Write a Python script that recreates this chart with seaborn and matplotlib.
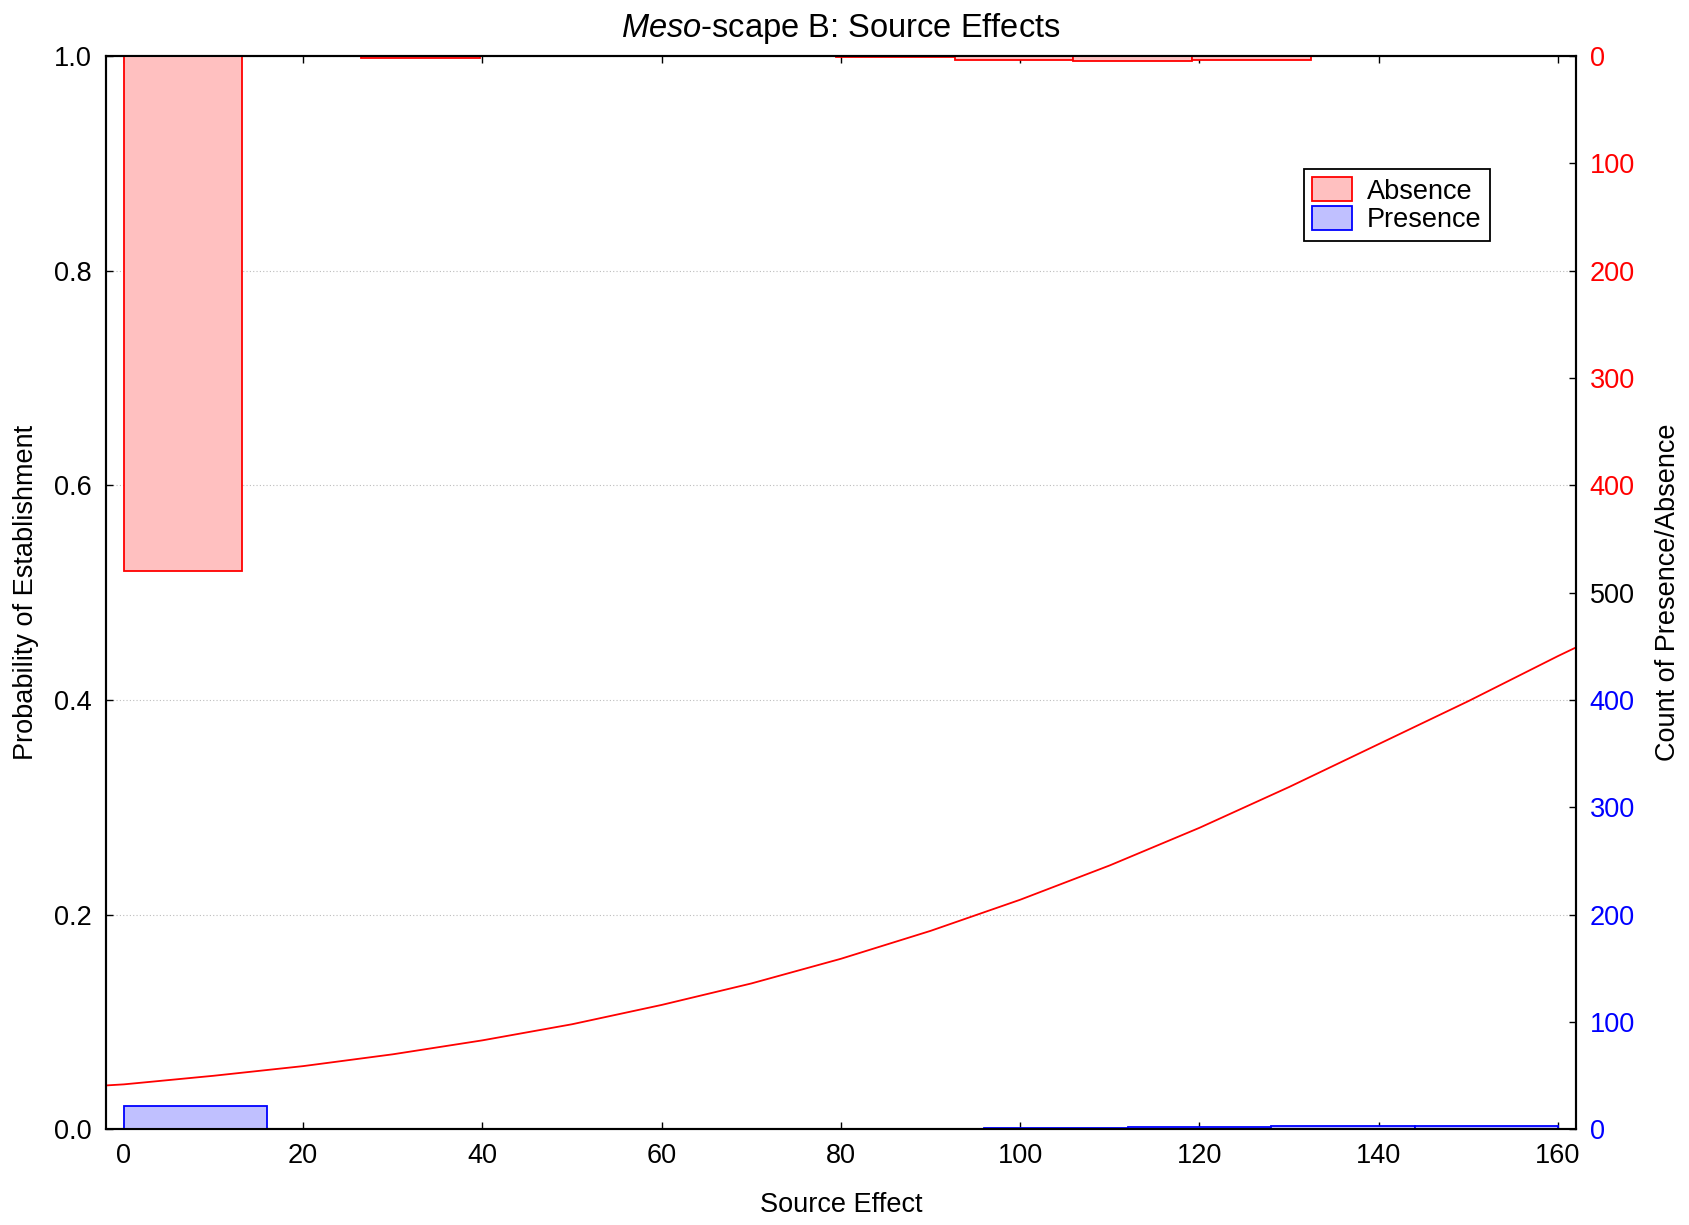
import numpy as np
import matplotlib
matplotlib.use("Agg")
import matplotlib.pyplot as plt
import seaborn as sns
from matplotlib.patches import Patch

# ---------------- data ----------------
source_effect = [-2, 0, 10, 20, 30, 40, 50, 60, 70, 80, 90, 100, 110, 120,
                 130, 140, 150, 160, 162]
prob_establishment = [0.041, 0.042, 0.050, 0.059, 0.070, 0.083, 0.098, 0.116,
                      0.136, 0.159, 0.185, 0.214, 0.246, 0.281, 0.319, 0.359,
                      0.399, 0.441, 0.449]

absence_bin_edges = [0, 13.2, 26.5, 39.7, 53.0, 66.2, 79.4, 92.7, 105.9,
                     119.2, 132.4, 145.6, 158.9, 172.1]
absence_counts = [480, 0, 2, None, None, None, 1, 4, 5, 4, None, None, 0]

presence_bin_edges = [0, 16, 32, 48, 64, 80, 96, 112, 128, 144, 160]
presence_counts = [22, None, None, None, None, None, 1, 2, 3, 3]

x_ticks = [0, 20, 40, 60, 80, 100, 120, 140, 160]
prob_ticks = [0.0, 0.2, 0.4, 0.6, 0.8, 1.0]
count_tick_pos = [0, 100, 200, 300, 400, 500, 600, 700, 800, 900, 1000]
count_tick_labels = ["0", "100", "200", "300", "400", "500",
                     "400", "300", "200", "100", "0"]
count_tick_colors = ["#0000ff"] * 5 + ["black"] + ["#ff0000"] * 5
total_count = 1000

title_text = r"$\mathit{Meso}$-scape B: Source Effects"
x_label = "Source Effect"
y_label = "Probability of Establishment"
y2_label = "Count of Presence/Absence"
legend_labels = ["Absence", "Presence"]

# ---------------- style ----------------
sns.set_theme(style="ticks")
plt.rcParams["font.family"] = ["Liberation Sans", "DejaVu Sans"]
plt.rcParams["mathtext.fontset"] = "custom"
plt.rcParams["mathtext.rm"] = "Liberation Sans"
plt.rcParams["mathtext.it"] = "Liberation Sans:italic"
plt.rcParams["axes.linewidth"] = 1.5
plt.rcParams["text.color"] = "black"
plt.rcParams["axes.labelcolor"] = "black"
plt.rcParams["xtick.color"] = "black"
plt.rcParams["ytick.color"] = "black"

RED = "#ff0000"
BLUE = "#0000ff"
RED_FILL = "#ffc0c0"
BLUE_FILL = "#c0c0ff"
FS = 19.5

fig = plt.figure(figsize=(16.9, 12.25), dpi=100)
ax = fig.add_axes([0.0627, 0.078, 0.8698, 0.8763])
ax2 = ax.twinx()

# probability curve
sns.lineplot(x=source_effect, y=prob_establishment, ax=ax, color=RED,
             linewidth=1.3, sort=False, zorder=3)

ax.set_xlim(-2, 162)
ax.set_ylim(0, 1)
ax.set_xticks(x_ticks)
ax.set_yticks(prob_ticks)
ax.set_yticklabels([f"{v:.1f}" for v in prob_ticks])
ax.yaxis.grid(True, linestyle=(0, (1, 2)), color="#bdbdbd", linewidth=0.8)
ax.xaxis.grid(False)
ax.tick_params(axis="both", direction="in", length=5, width=1,
               labelsize=FS, pad=10, colors="black")
ax.tick_params(axis="x", top=True)
ax.set_xlabel(x_label, fontsize=FS, labelpad=16, color="black")
ax.set_ylabel(y_label, fontsize=FS, labelpad=11, color="black")
ax.set_title(title_text, fontsize=23.5, pad=14, color="black")

# histograms on the count axis
ax2.set_ylim(0, total_count)
for i, c in enumerate(presence_counts):
    if c is None:
        continue
    left = presence_bin_edges[i]
    w = presence_bin_edges[i + 1] - left
    ax2.bar(left, c, width=w, bottom=0, align="edge", facecolor=BLUE_FILL,
            edgecolor=BLUE, linewidth=1.3)
for i, c in enumerate(absence_counts):
    if c is None:
        continue
    left = absence_bin_edges[i]
    w = absence_bin_edges[i + 1] - left
    ax2.bar(left, c, width=w, bottom=total_count - c, align="edge",
            facecolor=RED_FILL, edgecolor=RED, linewidth=1.3)

ax2.set_xlim(-2, 162)
ax2.set_yticks(count_tick_pos)
ax2.set_yticklabels(count_tick_labels)
for lab, col in zip(ax2.get_yticklabels(), count_tick_colors):
    lab.set_color(col)
ax2.tick_params(axis="y", direction="in", length=5, width=1,
                labelsize=FS, pad=10)
ax2.set_ylabel(y2_label, fontsize=FS, labelpad=14, color="black")
ax2.grid(False)
for sp in list(ax.spines.values()) + list(ax2.spines.values()):
    sp.set_color("black")
    sp.set_linewidth(1.5)

handles = [Patch(facecolor=RED_FILL, edgecolor=RED, linewidth=1.3),
           Patch(facecolor=BLUE_FILL, edgecolor=BLUE, linewidth=1.3)]
leg = ax2.legend(handles, legend_labels, loc="upper right",
                 bbox_to_anchor=(0.9415, 0.8947), fontsize=FS,
                 frameon=True, fancybox=False, shadow=False,
                 handlelength=1.5, handleheight=1.0, handletextpad=0.55,
                 labelspacing=0.05, borderpad=0.3, borderaxespad=0)
for t in leg.get_texts():
    t.set_color("black")
leg.get_frame().set_edgecolor("black")
leg.get_frame().set_linewidth(1.3)
leg.get_frame().set_alpha(1)

fig.savefig("out.png", dpi=100)
